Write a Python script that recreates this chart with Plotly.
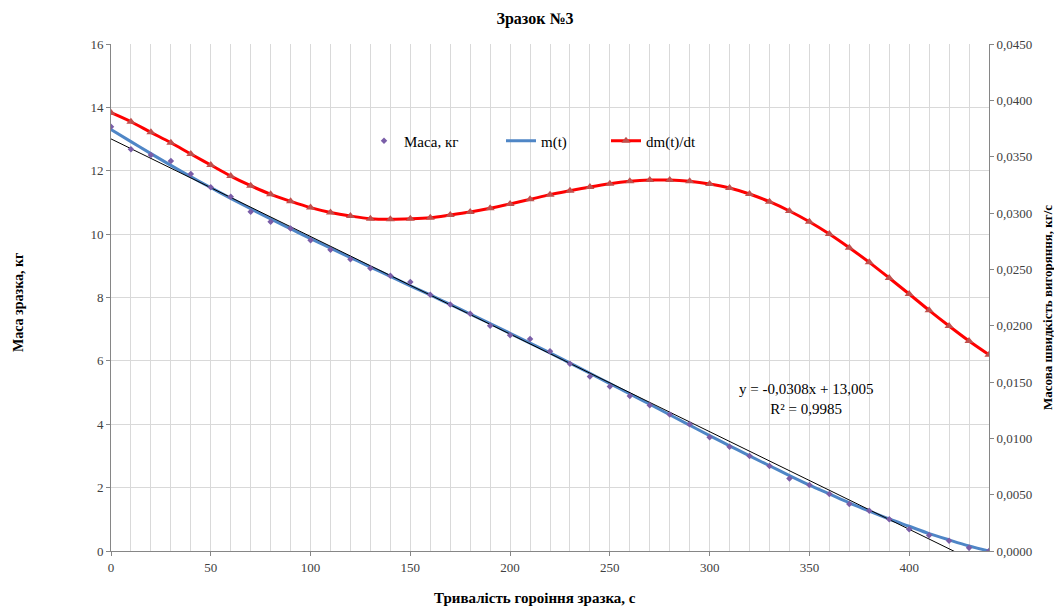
import plotly.graph_objects as go

# ---- data ----
t = list(range(0, 450, 10))
mass = [13.39, 12.68, 12.50, 12.31, 11.90, 11.48, 11.18, 10.71, 10.39, 10.18,
        9.81, 9.51, 9.21, 8.92, 8.69, 8.49, 8.09, 7.78, 7.49, 7.11,
        6.81, 6.69, 6.30, 5.91, 5.51, 5.19, 4.89, 4.60, 4.31, 4.00,
        3.59, 3.29, 3.00, 2.68, 2.29, 2.08, 1.80, 1.48, 1.27, 1.00,
        0.69, 0.50, 0.32, 0.10, 0.00]
m_fit = [13.30, 12.92, 12.54, 12.17, 11.81, 11.47, 11.13, 10.80, 10.48, 10.17,
         9.86, 9.56, 9.26, 8.96, 8.67, 8.37, 8.08, 7.78, 7.48, 7.18,
         6.87, 6.56, 6.25, 5.93, 5.61, 5.28, 4.96, 4.63, 4.30, 3.97,
         3.64, 3.32, 3.00, 2.69, 2.38, 2.08, 1.80, 1.52, 1.26, 1.01,
         0.78, 0.55, 0.35, 0.16, 0.00]
dmdt = [0.0389, 0.0381, 0.03716, 0.03624, 0.03524, 0.03426, 0.03328, 0.03242, 0.03166, 0.03104,
        0.03048, 0.03005, 0.02973, 0.02949, 0.02944, 0.02948, 0.02958, 0.02982, 0.03009, 0.03042,
        0.0308, 0.03121, 0.03163, 0.03198, 0.03231, 0.0326, 0.03281, 0.03292, 0.03293, 0.03281,
        0.03257, 0.03222, 0.03169, 0.031, 0.03018, 0.02923, 0.02814, 0.02692, 0.02562, 0.02423,
        0.02281, 0.02136, 0.01997, 0.01864, 0.01742]
trend_slope = -0.0308
trend_intercept = 13.005
trend_x = [0, 440]
trend_y = [trend_intercept + trend_slope * x for x in trend_x]

title_text = "Зразок №3"
x_title = "Тривалість гороіння зразка, с"
y_title = "Маса зразка, кг"
y2_title = "Масова швидкість вигоряння, кг/с"
eq_text = "y = -0,0308x + 13,005<br>R² = 0,9985"

serif = "Liberation Serif"

# page offset of the figure inside the browser (body margin)
OFF = 8
W, H = 1062 - OFF, 612 - OFF
PL, PR, PT, PB = 111, 989, 44, 551  # plot area in page pixels
pw, ph = PR - PL, PB - PT


def px(xp):
    return (xp - PL) / pw


def py(yp):
    return (PB - yp) / ph


fig = go.Figure()
fig.add_trace(go.Scatter(x=t, y=m_fit, mode="lines", name="m(t)", legend="legend2",
                         line=dict(color="#4f86c6", width=3, shape="spline")))
fig.add_trace(go.Scatter(x=trend_x, y=trend_y, mode="lines", showlegend=False,
                         line=dict(color="#000000", width=1)))
fig.add_trace(go.Scatter(x=t, y=mass, mode="markers", name="Маса, кг", legend="legend",
                         marker=dict(color="#7a5ea8", size=5, symbol="diamond")))
fig.add_trace(go.Scatter(x=t, y=dmdt, mode="lines+markers", name="dm(t)/dt", yaxis="y2",
                         legend="legend3",
                         line=dict(color="#ff0000", width=3, shape="spline"),
                         marker=dict(color="#c0504d", size=8, symbol="triangle-up")))

axis_line = "#868686"
grid = "#d9d9d9"
tickfont = dict(family=serif, size=13, color="#404040")
legfont = dict(family=serif, size=15, color="#000000")


def leg(xpage):
    return dict(x=px(xpage), y=py(141), xanchor="left", yanchor="middle",
                bgcolor="rgba(0,0,0,0)", font=legfont, orientation="h")


fig.update_layout(
    width=W, height=H,
    font=dict(family=serif, size=13, color="#000000"),
    paper_bgcolor="white", plot_bgcolor="white",
    margin=dict(l=PL - OFF, r=W - (PR - OFF), t=PT - OFF, b=H - (PB - OFF)),
    separators=", ",
    title=dict(text="<b>" + title_text + "</b>", x=0.5, xanchor="center",
               y=1 - (18 - OFF) / H, yanchor="middle", yref="container",
               font=dict(family=serif, size=16, color="#000000")),
    xaxis=dict(range=[0, 440], dtick=50, tick0=0, showgrid=True, gridcolor=grid,
               minor=dict(dtick=10, showgrid=True, gridcolor=grid, ticks=""),
               showline=True, linecolor=axis_line, ticks="outside", ticklen=4,
               tickcolor=axis_line, tickfont=tickfont, zeroline=False),
    yaxis=dict(range=[0, 16], dtick=2, showgrid=True, gridcolor=grid,
               showline=True, linecolor=axis_line, ticks="outside", ticklen=4,
               tickcolor=axis_line, tickfont=tickfont, zeroline=False),
    yaxis2=dict(range=[0, 0.045], dtick=0.005, overlaying="y", side="right",
                showgrid=False, tickformat=".4f", showline=True, linecolor=axis_line,
                ticks="outside", ticklen=4, tickcolor=axis_line, tickfont=tickfont,
                zeroline=False),
    legend=leg(364),
    legend2=leg(501),
    legend3=leg(606),
    showlegend=True,
)

fig.add_annotation(text=eq_text, x=px(806), y=py(399), xref="paper", yref="paper",
                   showarrow=False, font=dict(family=serif, size=15, color="#000000"),
                   align="center", xanchor="center", yanchor="middle")
fig.add_annotation(text="<b>" + x_title + "</b>", x=px(535), y=py(598),
                   xref="paper", yref="paper", showarrow=False, xanchor="center",
                   yanchor="middle", font=dict(family=serif, size=15, color="#000000"))
fig.add_annotation(text="<b>" + y_title + "</b>", x=px(18), y=py(303),
                   xref="paper", yref="paper", showarrow=False, textangle=-90,
                   xanchor="center", yanchor="middle",
                   font=dict(family=serif, size=14, color="#000000"))
fig.add_annotation(text="<b>" + y2_title + "</b>", x=px(1047), y=py(308),
                   xref="paper", yref="paper", showarrow=False, textangle=-90,
                   xanchor="center", yanchor="middle",
                   font=dict(family=serif, size=13, color="#000000"))

fig.write_html("out.html")
